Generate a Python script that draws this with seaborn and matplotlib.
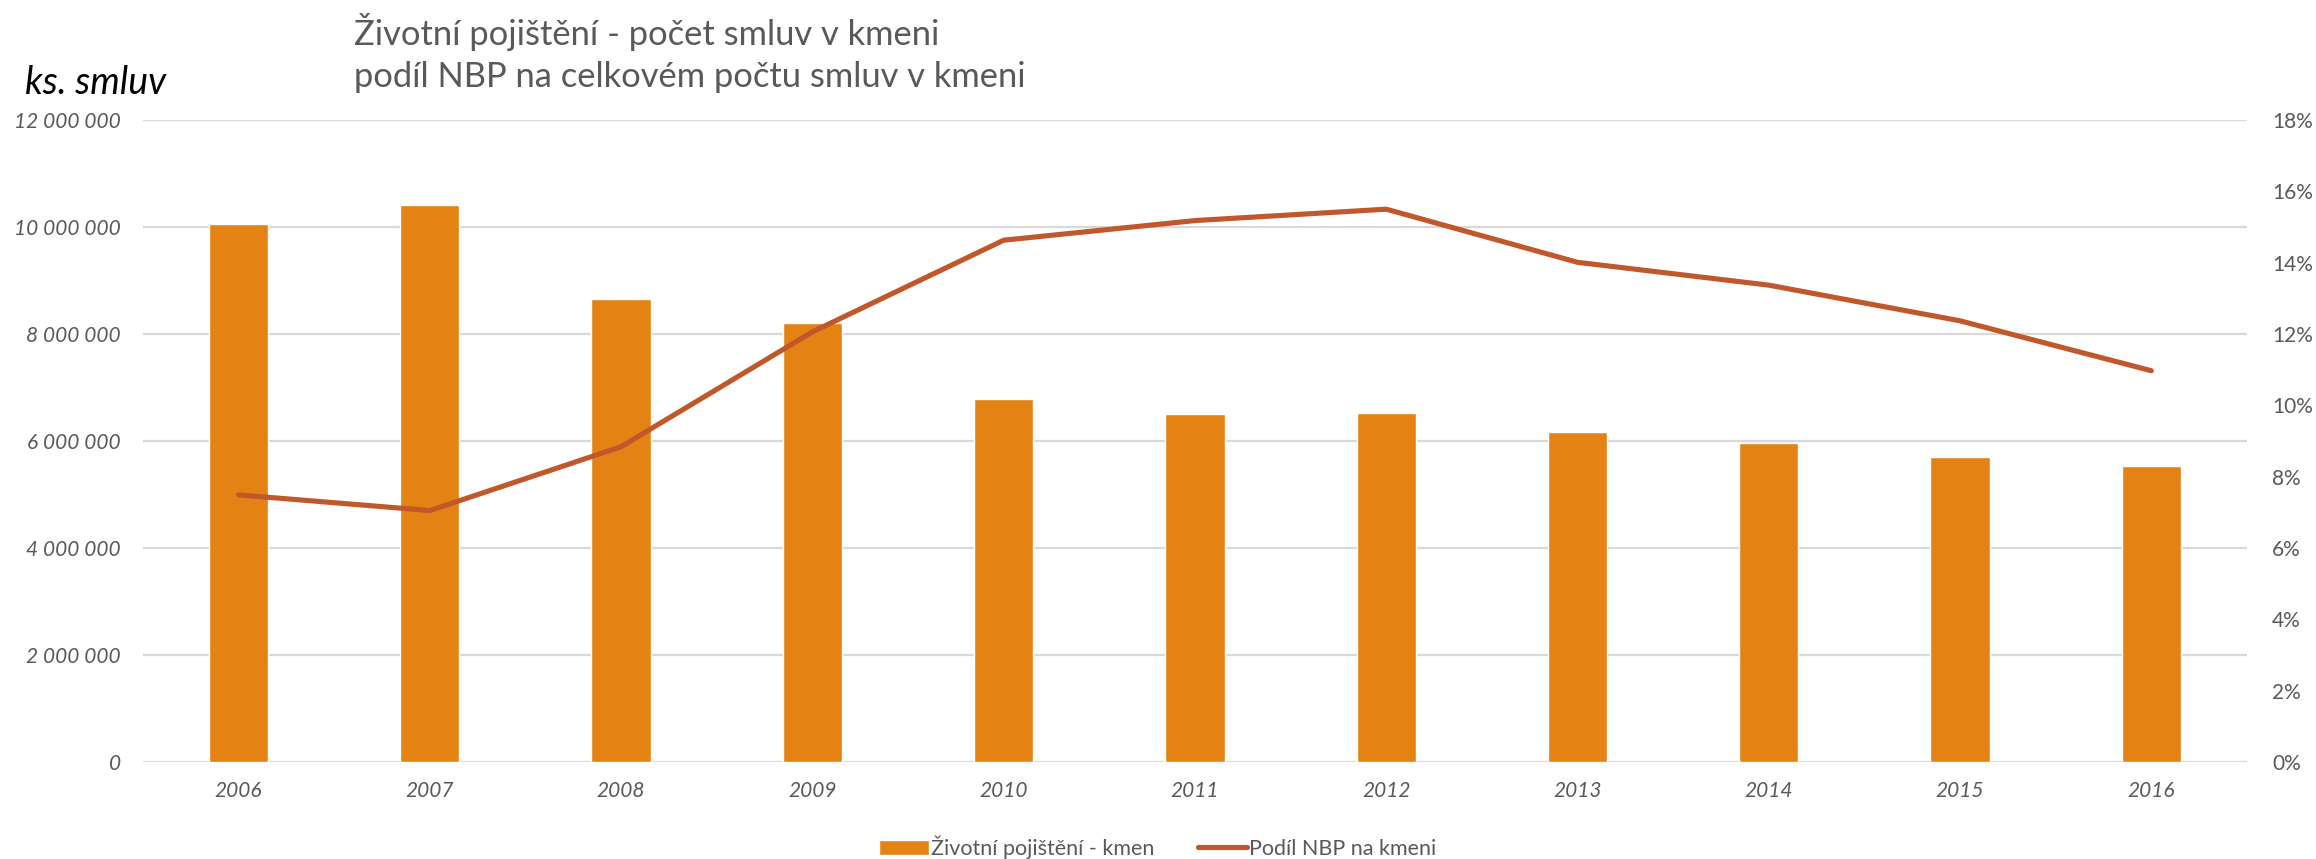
import numpy as np
import pandas as pd
import matplotlib
matplotlib.use("Agg")
import matplotlib.pyplot as plt
import seaborn as sns
from matplotlib.ticker import FuncFormatter, PercentFormatter, MultipleLocator

# ==========================================
# data
# ==========================================
YEARS = ["2006", "2007", "2008", "2009", "2010", "2011",
         "2012", "2013", "2014", "2015", "2016"]
KMEN = [10060000, 10410000, 8650000, 8200000, 6790000, 6500000,
        6520000, 6160000, 5960000, 5700000, 5530000]
PODIL_NBP = [0.0749, 0.0705, 0.0884, 0.1206, 0.1463, 0.1518,
             0.1550, 0.1401, 0.1337, 0.1237, 0.1097]

BAR_LABEL = "Životní pojištění - kmen"
LINE_LABEL = "Podíl NBP na kmeni"
TITLE = "Životní pojištění - počet smluv v kmeni\npodíl NBP na celkovém počtu smluv v kmeni"

BAR_COLOR = "#E48313"
LINE_COLOR = "#C0582B"
GREY_TXT = "#595959"
GRID = "#D9D9D9"
FONT = ["Lato", "DejaVu Sans"]

df = pd.DataFrame({"year": YEARS, "kmen": KMEN, "podil": PODIL_NBP})
df["pos"] = np.arange(len(df))

sns.set_theme(style="white")
plt.rcParams["font.family"] = FONT

fig = plt.figure(figsize=(23.16, 8.59), dpi=100)
ax = fig.add_axes([0.0617, 0.1129, 0.9085, 0.7474])

sns.barplot(data=df, x="year", y="kmen", color=BAR_COLOR, width=0.31,
            saturation=1, ax=ax, label=BAR_LABEL, zorder=2)
ax.set_ylim(0, 12000000)
ax.set_xlim(-0.5, len(df) - 0.5)
ax.yaxis.set_major_locator(MultipleLocator(2000000))
ax.yaxis.set_major_formatter(FuncFormatter(lambda v, p: f"{int(v):,}".replace(",", " ")))
ax.grid(axis="y", color=GRID, linewidth=1.6, zorder=0)
ax.set_axisbelow(True)
ax.set_xlabel("")
ax.set_ylabel("")
for s in ax.spines.values():
    s.set_visible(False)
ax.tick_params(axis="y", length=0, pad=16, labelsize=15, labelcolor=GREY_TXT)
ax.tick_params(axis="x", length=0, pad=14, labelsize=15, labelcolor=GREY_TXT)
for lab in ax.get_xticklabels() + ax.get_yticklabels():
    lab.set_fontstyle("italic")

ax2 = ax.twinx()
sns.lineplot(data=df, x="pos", y="podil", color=LINE_COLOR, linewidth=3.7,
             ax=ax2, label=LINE_LABEL, legend=False, zorder=3)
ax2.set_ylim(0, 0.18)
ax2.yaxis.set_major_locator(MultipleLocator(0.02))
ax2.yaxis.set_major_formatter(PercentFormatter(1, decimals=0))
ax2.set_ylabel("")
ax2.set_xlabel("")
ax2.grid(False)
for s in ax2.spines.values():
    s.set_visible(False)
ax2.tick_params(axis="y", length=0, pad=18, labelsize=15, labelcolor=GREY_TXT)

# legend under the plot
h1, l1 = ax.get_legend_handles_labels()
h2, l2 = ax2.get_legend_handles_labels()
if ax.get_legend() is not None:
    ax.get_legend().remove()
fig.legend(h1 + h2, l1 + l2, loc="center", bbox_to_anchor=(0.5, 0.014),
           ncol=2, frameon=False, fontsize=15.5, handlelength=2.3,
           handletextpad=0.1, columnspacing=2.0, labelcolor=GREY_TXT)

fig.text(0.1528, 0.985, TITLE, ha="left", va="top", fontsize=24.8,
         color=GREY_TXT, linespacing=1.4)
fig.text(0.011, 0.903, "ks. smluv", ha="left", va="center", fontsize=27,
         fontstyle="italic", color="black")

fig.savefig("out.png", dpi=100)
